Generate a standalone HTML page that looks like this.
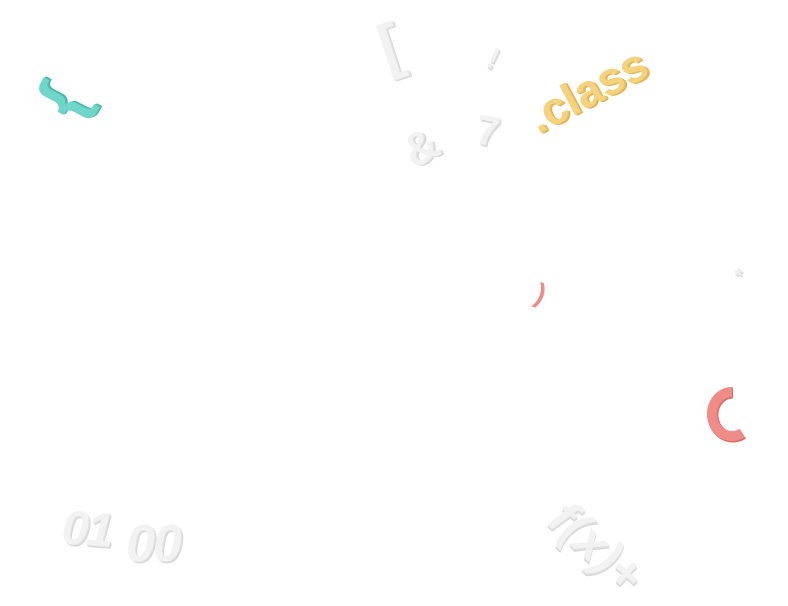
<!DOCTYPE html>
<html><head><meta charset="utf-8"><style>
html,body{margin:0;padding:0;background:#fff;width:788px;height:606px;overflow:hidden;position:relative}
.t{position:absolute;font-family:"Liberation Sans",sans-serif;font-weight:bold;line-height:1;white-space:nowrap}
.g{color:#f2f2f3;text-shadow:1px 1px 0 #e0e0e2,2px 2px 0 #d8d8da}
</style></head><body>
<div class="t" style="left:520px;top:100px;font-size:46px;color:#f4d27e;transform:rotate(-28deg);transform-origin:left top;text-shadow:1px 1px 0 #e6bd60,2px 2px 0 #ddb255">.class</div>
<div class="t g" style="left:380px;top:16px;font-size:62px;transform:rotate(-18deg)">[</div>
<div class="t g" style="left:488px;top:44px;font-size:30px;transform:rotate(25deg)">!</div>
<div class="t g" style="left:476px;top:110px;font-size:42px;transform:rotate(10deg)">7</div>
<div class="t g" style="left:404px;top:124px;font-size:46px;transform:rotate(-30deg)">&amp;</div>
<div class="t" style="left:48px;top:66px;font-size:68px;color:#6fd6c8;transform:rotate(-62deg);text-shadow:1px 1px 0 #52bfb1,2px 2px 0 #48b3a6">{</div>
<div class="t" style="left:536px;top:280px;font-size:28px;color:#f08c88;transform:rotate(20deg)">)</div>
<div class="t g" style="left:734px;top:266px;font-size:20px">*</div>
<svg style="position:absolute;left:0;top:0" width="788" height="606">
<path d="M732,392 A20,22 0 1 0 742,433" fill="none" stroke="#d96e6a" stroke-width="11" transform="translate(1,1)"/>
<path d="M732,392 A20,22 0 1 0 742,433" fill="none" stroke="#f08c88" stroke-width="10"/>
</svg>
<div class="t g" style="left:62px;top:506px;font-size:48px;font-style:italic;letter-spacing:-2px;transform:rotate(4deg)">01</div>
<div class="t g" style="left:126px;top:518px;font-size:52px;font-style:italic;letter-spacing:-2px">00</div>
<div class="t g" style="left:574px;top:492px;font-size:50px;font-style:italic;transform:rotate(42deg);transform-origin:left top">f(x)+</div>
</body></html>
